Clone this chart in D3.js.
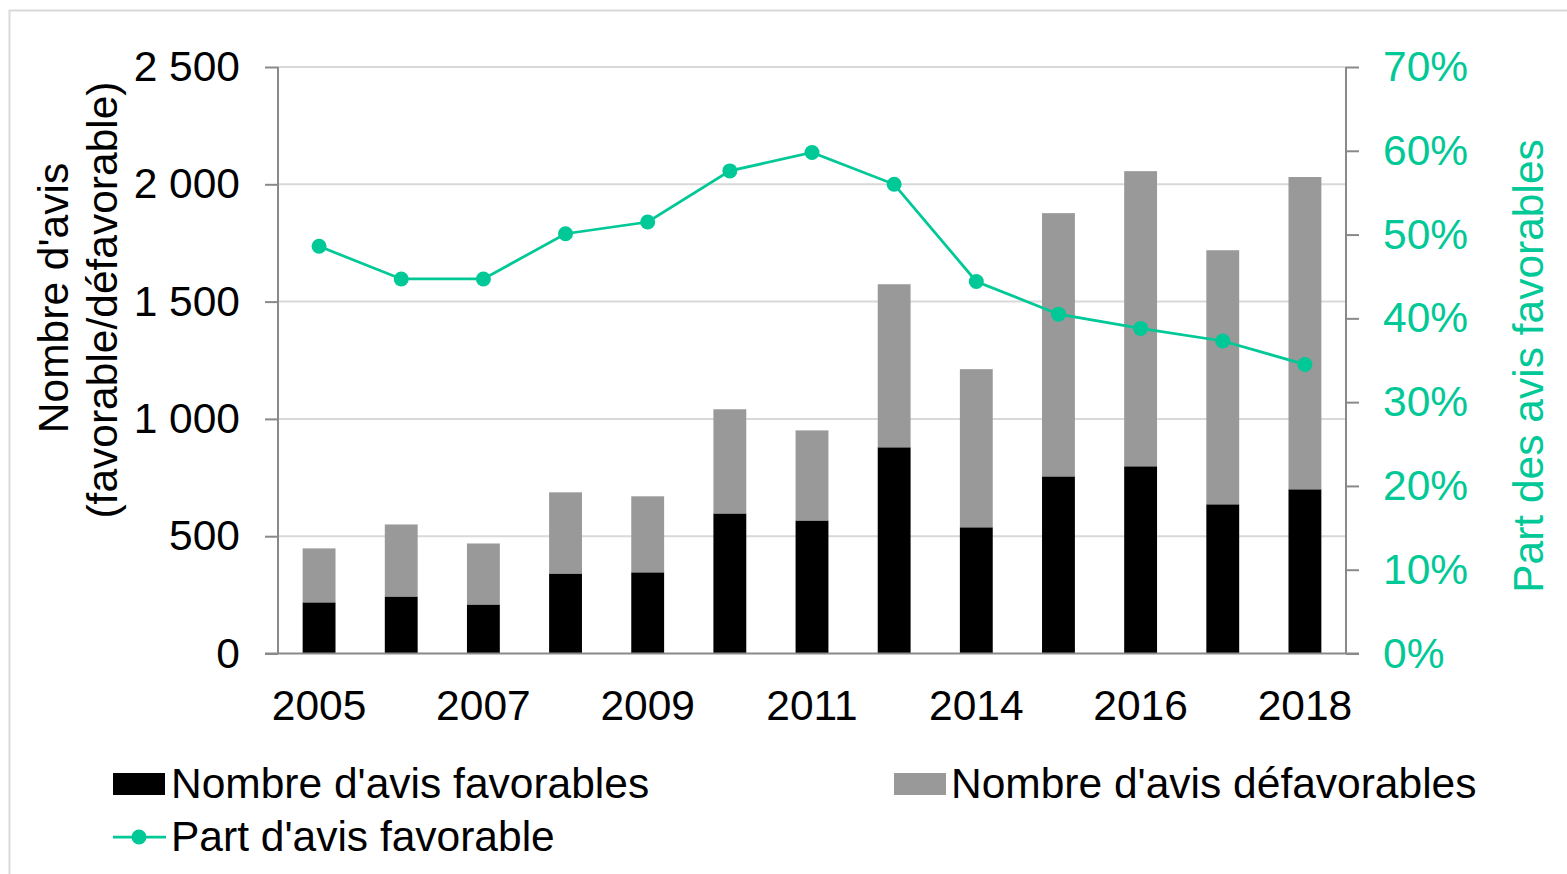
<!DOCTYPE html>
<html>
<head>
<meta charset="utf-8">
<script src="https://cdn.jsdelivr.net/npm/d3@7"></script>
<style>
  body { margin: 0; background: #fff; }
  #chart { width: 1567px; height: 874px; }
  text { font-family: "Liberation Sans", Arial, sans-serif; }
</style>
</head>
<body>
<div id="chart"></div>
<script>
const years = ["2005", "2006", "2007", "2008", "2009", "2010", "2011", "2012", "2014", "2015", "2016", "2017", "2018"]
const favorables = [218, 243, 209, 341, 346, 597, 567, 879, 538, 755, 798, 636, 700]
const defavorables = [230, 307, 260, 346, 324, 444, 384, 695, 674, 1122, 1258, 1083, 1331]
const partFavorable = [48.6, 44.7, 44.7, 50.1, 51.5, 57.6, 59.8, 56.0, 44.4, 40.5, 38.8, 37.3, 34.5]
const leftTicks = [0, 500, 1000, 1500, 2000, 2500]
const rightTicks = [0, 10, 20, 30, 40, 50, 60, 70]

const green = "#00c896"
const grey = "#999999"
const fontSize = 42.5

const width = 1567, height = 874
const svg = d3.select("#chart").append("svg")
    .attr("width", width)
    .attr("height", height)

// outer frame
svg.append("rect")
    .attr("x", 9.5).attr("y", 10.5)
    .attr("width", 1570).attr("height", 880)
    .attr("fill", "none")
    .attr("stroke", "#d9d9d9")
    .attr("stroke-width", 2)

const x = d3.scaleBand()
    .domain(years)
    .range([278, 1346])
    .paddingInner(0.6)
    .paddingOuter(0.3)

const y = d3.scaleLinear().domain([0, 2500]).range([653.5, 67])
const y2 = d3.scaleLinear().domain([0, 70]).range([653.5, 67])

// gridlines
svg.append("g")
    .selectAll("line")
    .data(leftTicks.slice(1))
    .join("line")
        .attr("x1", 278).attr("x2", 1346)
        .attr("y1", d => y(d)).attr("y2", d => y(d))
        .attr("stroke", "#d9d9d9")
        .attr("stroke-width", 2)

// stacked bars
const rows = years.map((yr, i) => ({year: yr, fav: favorables[i], def: defavorables[i]}))
const stack = d3.stack().keys(["fav", "def"])(rows)
const colors = {fav: "#000000", def: grey}

svg.append("g")
    .selectAll("g")
    .data(stack)
    .join("g")
        .attr("fill", d => colors[d.key])
    .selectAll("rect")
    .data(d => d)
    .join("rect")
        .attr("x", d => x(d.data.year))
        .attr("width", x.bandwidth())
        .attr("y", d => y(d[1]))
        .attr("height", d => y(d[0]) - y(d[1]))

// left axis
const leftAxis = svg.append("g")
    .attr("transform", "translate(278,0)")
    .call(d3.axisLeft(y).tickValues(leftTicks).tickSize(13).tickPadding(25)
        .tickFormat(d => d3.format(",")(d).replace(",", " ")))
leftAxis.select(".domain").attr("stroke", "#898989").attr("stroke-width", 2)
    .attr("d", "M0," + y(2500) + "V" + y(0))
leftAxis.selectAll(".tick line").attr("stroke", "#898989").attr("stroke-width", 2)
leftAxis.selectAll("text").attr("font-size", fontSize).attr("fill", "#000")
    .style("font-family", '"Liberation Sans", Arial, sans-serif')

// right axis
const rightAxis = svg.append("g")
    .attr("transform", "translate(1346,0)")
    .call(d3.axisRight(y2).tickValues(rightTicks).tickSize(13).tickPadding(24)
        .tickFormat(d => d + "%"))
rightAxis.select(".domain").attr("stroke", "#898989").attr("stroke-width", 2)
    .attr("d", "M0," + y2(70) + "V" + y2(0))
rightAxis.selectAll(".tick line").attr("stroke", "#898989").attr("stroke-width", 2)
rightAxis.selectAll("text").attr("font-size", fontSize).attr("fill", green)
    .style("font-family", '"Liberation Sans", Arial, sans-serif')

// bottom axis
const bottomAxis = svg.append("g")
    .attr("transform", "translate(0,653.5)")
    .call(d3.axisBottom(x).tickSize(0).tickPadding(36)
        .tickFormat((d, i) => i % 2 == 0 ? d : ""))
bottomAxis.select(".domain").attr("stroke", "#898989").attr("stroke-width", 2)
    .attr("d", "M265,0H1359")
bottomAxis.selectAll("text").attr("font-size", fontSize).attr("fill", "#000")
    .style("font-family", '"Liberation Sans", Arial, sans-serif')

// line
const line = d3.line()
    .x((d, i) => x(years[i]) + x.bandwidth() / 2)
    .y(d => y2(d))

svg.append("path")
    .datum(partFavorable)
    .attr("fill", "none")
    .attr("stroke", green)
    .attr("stroke-width", 2.75)
    .attr("d", line)

svg.append("g")
    .selectAll("circle")
    .data(partFavorable)
    .join("circle")
        .attr("cx", (d, i) => x(years[i]) + x.bandwidth() / 2)
        .attr("cy", d => y2(d))
        .attr("r", 7.5)
        .attr("fill", green)

// axis titles
svg.append("text")
    .attr("transform", "translate(68,298) rotate(-90)")
    .attr("text-anchor", "middle")
    .attr("font-size", fontSize)
    .text("Nombre d'avis")
svg.append("text")
    .attr("transform", "translate(117,300) rotate(-90)")
    .attr("text-anchor", "middle")
    .attr("font-size", fontSize)
    .text("(favorable/défavorable)")
svg.append("text")
    .attr("transform", "translate(1543,366) rotate(-90)")
    .attr("text-anchor", "middle")
    .attr("font-size", fontSize)
    .attr("fill", green)
    .text("Part des avis favorables")

// legend
const legend = svg.append("g")
legend.append("rect").attr("x", 113).attr("y", 773).attr("width", 52).attr("height", 22).attr("fill", "#000")
legend.append("text").attr("x", 171).attr("y", 798).attr("font-size", fontSize).text("Nombre d'avis favorables")
legend.append("rect").attr("x", 894).attr("y", 773).attr("width", 52).attr("height", 22).attr("fill", grey)
legend.append("text").attr("x", 951).attr("y", 798).attr("font-size", fontSize).text("Nombre d'avis défavorables")
legend.append("line").attr("x1", 113).attr("x2", 166).attr("y1", 837).attr("y2", 837)
    .attr("stroke", green).attr("stroke-width", 2.75)
legend.append("circle").attr("cx", 139).attr("cy", 837).attr("r", 7.5).attr("fill", green)
legend.append("text").attr("x", 171).attr("y", 851).attr("font-size", fontSize).text("Part d'avis favorable")
</script>
</body>
</html>
